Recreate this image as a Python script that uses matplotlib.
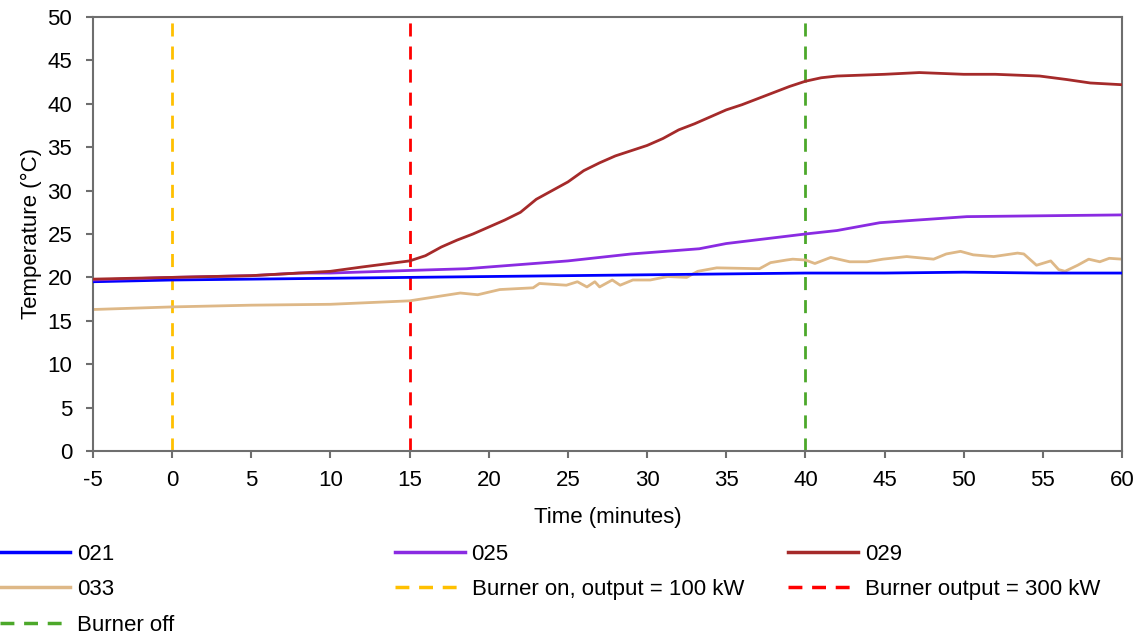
import matplotlib
matplotlib.use("Agg")
import matplotlib.pyplot as plt
from matplotlib.lines import Line2D

plt.rcParams['font.family'] = ['Liberation Sans', 'DejaVu Sans']
plt.rcParams['axes.unicode_minus'] = False

# sensor 021
t_021 = [-5, 0, 5, 10, 15, 20, 25, 30, 35, 40, 45, 50, 55, 60]
v_021 = [19.5, 19.7, 19.8, 19.9, 20.0, 20.1, 20.2, 20.3, 20.4, 20.5, 20.5, 20.6, 20.5, 20.5]

# sensor 025
t_025 = [-5, 0, 5, 8, 10, 15, 18.6, 20, 25, 29, 33.3, 35, 40, 42, 44.7, 47, 50.2, 55, 60]
v_025 = [19.7, 20.0, 20.2, 20.5, 20.5, 20.8, 21.0, 21.2, 21.9, 22.7, 23.3, 23.9, 25.0, 25.4, 26.3, 26.6, 27.0, 27.1, 27.2]

# sensor 029
t_029 = [-5, 0, 5, 10, 12, 15, 16, 17, 18, 19, 20, 21, 22, 23, 24, 25, 26, 27, 28, 29, 30,
         31, 32, 33, 34, 35, 36, 37, 38, 39, 40, 41, 42, 45, 47.2, 50, 52, 54.8, 56.5, 58, 60]
v_029 = [19.8, 20.0, 20.2, 20.7, 21.2, 21.9, 22.5, 23.5, 24.3, 25.0, 25.8, 26.6, 27.5, 29.0, 30.0,
         31.0, 32.3, 33.2, 34.0, 34.6, 35.2, 36.0, 37.0, 37.7, 38.5, 39.3, 39.9, 40.6, 41.3, 42.0,
         42.6, 43.0, 43.2, 43.4, 43.6, 43.4, 43.4, 43.2, 42.8, 42.4, 42.2]

# sensor 033
t_033 = [-5, 0, 5, 10, 15, 18.2, 19.3, 20.7, 22.8, 23.2, 24.9, 25.6, 26.2, 26.7, 27.0, 27.8,
         28.3, 29.1, 30.2, 31.3, 32.5, 33.2, 34.4, 37.1, 37.8, 38.8, 39.2, 40.0, 40.6, 41.6,
         42.8, 43.9, 44.9, 46.4, 48.1, 48.9, 49.8, 50.6, 51.9, 53.4, 53.8, 54.6, 55.5, 56.0,
         56.4, 57.2, 57.9, 58.6, 59.2, 60]
v_033 = [16.3, 16.6, 16.8, 16.9, 17.3, 18.2, 18.0, 18.6, 18.8, 19.3, 19.1, 19.5, 18.9, 19.5, 18.9,
         19.7, 19.1, 19.7, 19.7, 20.1, 20.0, 20.7, 21.1, 21.0, 21.7, 22.0, 22.1, 22.0, 21.6, 22.3,
         21.8, 21.8, 22.1, 22.4, 22.1, 22.7, 23.0, 22.6, 22.4, 22.8, 22.7, 21.4, 21.9, 20.9,
         20.7, 21.4, 22.1, 21.8, 22.2, 22.1]

events = [0, 15, 40]
event_labels = ["Burner on, output = 100 kW", "Burner output = 300 kW", "Burner off"]
event_colors = ["#FFC000", "#FF0000", "#4CA82A"]

fig = plt.figure(figsize=(11.43, 6.35), dpi=100)
ax = fig.add_axes([0.0814, 0.2898, 0.9002, 0.6834])

ax.plot(t_021, v_021, color="#0000FF", lw=2, label="021", zorder=3)
ax.plot(t_025, v_025, color="#8A2BE2", lw=2, label="025", zorder=3)
ax.plot(t_029, v_029, color="#A52A2A", lw=2, label="029", zorder=3)
ax.plot(t_033, v_033, color="#DEB887", lw=2, label="033", zorder=2)
for x, c in zip(events, event_colors):
    ax.axvline(x, color=c, lw=2, dashes=(4.7, 3.6), zorder=1)

ax.set_xlim(-5, 60)
ax.set_ylim(0, 50)
ax.set_xticks(range(-5, 61, 5))
ax.set_yticks(range(0, 51, 5))
ax.tick_params(labelsize=16, length=5, width=1.5, color="#6E6E6E", direction="out")
ax.tick_params(axis="x", pad=9)
ax.tick_params(axis="y", pad=10)
for s in ax.spines.values():
    s.set_color("#6E6E6E")
    s.set_linewidth(1.5)
ax.set_xlabel("Time (minutes)", fontsize=16, labelpad=11)
ax.set_ylabel("Temperature (°C)", fontsize=16, labelpad=4)

def h(c, dashed=False):
    if dashed:
        return Line2D([], [], color=c, lw=2.5, dashes=(4, 2.8))
    return Line2D([], [], color=c, lw=2.5)

cols = [
    ([h("#0000FF"), h("#DEB887"), h("#4CA82A", True)], ["021", "033", "Burner off"], 0.0),
    ([h("#8A2BE2"), h("#FFC000", True)], ["025", "Burner on, output = 100 kW"], 0.3455),
    ([h("#A52A2A"), h("#FF0000", True)], ["029", "Burner output = 300 kW"], 0.6895),
]
for hs, ls, x0 in cols:
    fig.legend(hs, ls, loc="upper left", bbox_to_anchor=(x0, 0.144), frameon=False,
               fontsize=16, handlelength=3.15, handletextpad=0.3, labelspacing=0.66,
               borderaxespad=0, borderpad=0)

fig.savefig("out.png", dpi=100)
